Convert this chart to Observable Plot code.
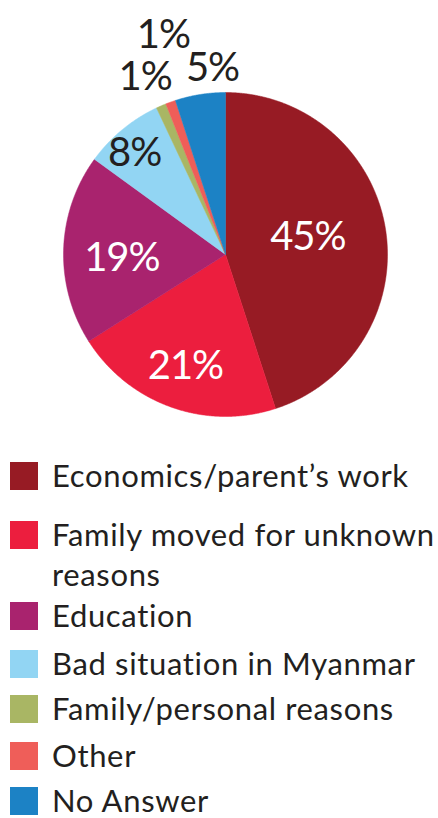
<!DOCTYPE html>
<html>
<head>
<meta charset="utf-8">
<script src="https://cdn.jsdelivr.net/npm/d3@7"></script>
<script src="https://cdn.jsdelivr.net/npm/@observablehq/plot@0.6"></script>
<style>
  html, body { margin: 0; padding: 0; background: #fff; }
  body { width: 438px; height: 818px; position: relative; overflow: hidden; font-family: Lato, "Open Sans", sans-serif; color: #231F20; }
  #chart svg { display: block; }
  #legend { position: absolute; left: 0; top: 440px; width: 438px; height: 378px; }
  .row { position: absolute; left: 10px; display: flex; align-items: flex-start; }
  .sw { width: 28px; height: 28px; flex: none; }
  .lab { margin-left: 14px; margin-top: -7px; font-size: 31px; letter-spacing: 0.65px; line-height: 40px; width: 386px; }
  .row.last .lab { margin-top: -3px; line-height: 32px; }
</style>
</head>
<body>
<div id="chart"></div>
<div id="legend"></div>
<script>
// ---- data ----
const categories = [
  "Economics/parent’s work",
  "Family moved for unknown reasons",
  "Education",
  "Bad situation in Myanmar",
  "Family/personal reasons",
  "Other",
  "No Answer"
];
const values = [45, 21, 19, 8, 1, 1, 5];
const labels = ["45%", "21%", "19%", "8%", "1%", "1%", "5%"];
const colors = ["#971B24", "#EC1E3E", "#A9236E", "#92D5F3", "#A9B664", "#EF5E59", "#1C82C5"];

// ---- layout (not data) ----
const labelRadius = [0.52, 0.73, 0.64, 0.84, 1.2, 1.41, 1.15];
const labelAngleNudge = [-3, 0, -4, -2.3, -1, 4, 5]; // degrees
const labelFill = ["white", "white", "white", "#231F20", "#231F20", "#231F20", "#231F20"];
const legendTops = [22, 81, 162, 210, 255, 302, 347];

const pie = d3.pie().sort(null).value(d => d.value).startAngle(0).endAngle(2 * Math.PI);
const rows = categories.map((c, i) => ({cat: c, value: values[i], label: labels[i], i}));
const arcs = pie(rows);

// polygon points in data space (unit circle), clockwise from 12 o'clock
const pts = [];
arcs.forEach(a => {
  const cat = a.data.cat;
  pts.push({cat, x: 0, y: 0});
  const n = Math.max(2, Math.ceil((a.endAngle - a.startAngle) / 0.005));
  for (let k = 0; k <= n; k++) {
    const t = a.startAngle + (a.endAngle - a.startAngle) * k / n;
    pts.push({cat, x: Math.sin(t), y: Math.cos(t)});
  }
  pts.push({cat, x: 0, y: 0});
});

const labelPts = arcs.map((a, i) => {
  const mid = (a.startAngle + a.endAngle) / 2 + labelAngleNudge[i] * Math.PI / 180;
  const r = labelRadius[i];
  return {label: a.data.label, x: r * Math.sin(mid), y: r * Math.cos(mid), fill: labelFill[i]};
});

const plot = Plot.plot({
  width: 438,
  height: 440,
  marginLeft: 63,
  marginRight: 51,
  marginTop: 92,
  marginBottom: 24,
  x: {domain: [-1, 1], axis: null},
  y: {domain: [-1, 1], axis: null},
  color: {domain: categories, range: colors},
  style: {fontFamily: "Lato, sans-serif", background: "white"},
  marks: [
    Plot.line(pts, {x: "x", y: "y", z: "cat", fill: "cat", stroke: "cat", strokeWidth: 0.5, curve: "linear"}),
    Plot.text(labelPts, {x: "x", y: "y", text: "label", fill: d => d.fill, fontSize: 40, fontFamily: "Lato, sans-serif", textAnchor: "middle", lineAnchor: "middle"})
  ]
});
document.getElementById("chart").appendChild(plot);
plot.querySelectorAll("text").forEach(t => t.style.letterSpacing = "-1px");

// legend
const legend = document.getElementById("legend");
categories.forEach((c, i) => {
  const row = document.createElement("div");
  row.className = "row" + (i === categories.length - 1 ? " last" : "");
  row.style.top = legendTops[i] + "px";
  const sw = document.createElement("div");
  sw.className = "sw";
  sw.style.background = colors[i];
  const lab = document.createElement("div");
  lab.className = "lab";
  lab.textContent = c;
  row.appendChild(sw);
  row.appendChild(lab);
  legend.appendChild(row);
});
</script>
</body>
</html>
